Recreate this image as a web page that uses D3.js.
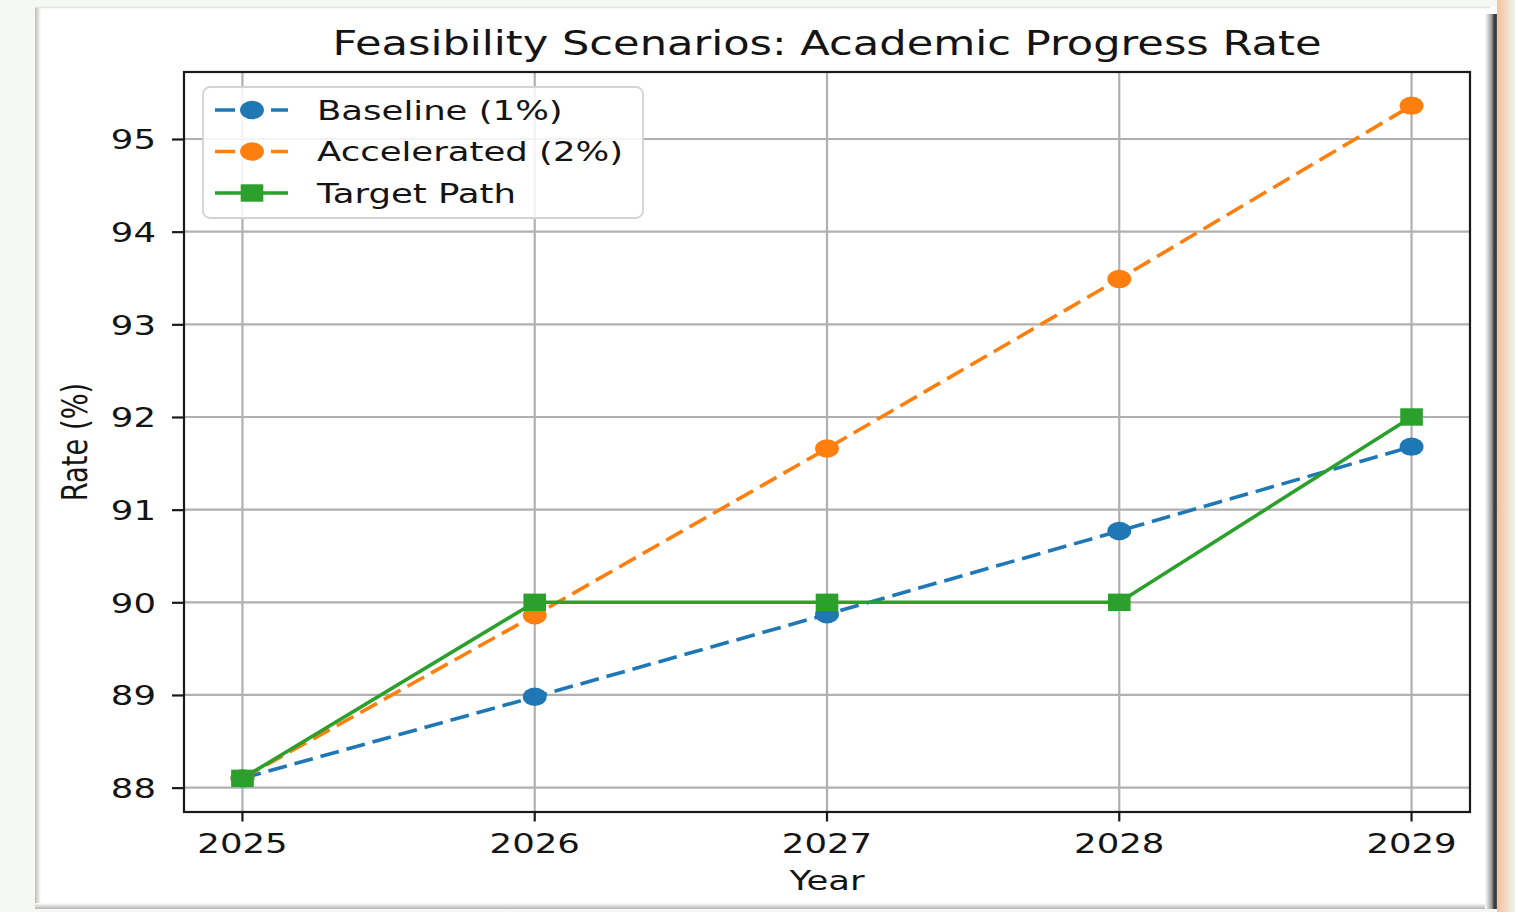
<!DOCTYPE html>
<html lang="en">
    <head>
        <meta charset="utf-8">
        <script type="text/javascript" src="https://cdn.jsdelivr.net/npm/d3@7/dist/d3.min.js"></script>
        <style>
          body { margin: 0; background: #f5f8f4; }
          text { font-family: "DejaVu Sans", sans-serif; fill: #141414; }
        </style>
    </head>
    <body>
        <div id="chart"></div>
        <script type="text/javascript">
        // data
        var years = [2025, 2026, 2027, 2028, 2029];
        var baseline = [88.1, 88.98, 89.87, 90.77, 91.68];
        var accelerated = [88.1, 89.86, 91.66, 93.49, 95.36];
        var target = [88.1, 90, 90, 90, 92];
        var yTicks = [88, 89, 90, 91, 92, 93, 94, 95];
        var seriesNames = ["Baseline (1%)", "Accelerated (2%)", "Target Path"];

        // the picture is stretched sideways, text and markers follow that
        var sx = 1.3;
        var tickFont = 27.3;
        var titleFont = 33.2;

        var margin = { top: 72, right: 45, bottom: 100, left: 184 };
        var width = 1286;
        var height = 740;

        var series = [
          { name: seriesNames[0], values: baseline, color: '#1f77b4', dash: '19,8', marker: 'circle' },
          { name: seriesNames[1], values: accelerated, color: '#ff7f0e', dash: '19,8', marker: 'circle' },
          { name: seriesNames[2], values: target, color: '#2ca02c', dash: null, marker: 'square' }
        ];

        var svg = d3.select('#chart').append('svg')
          .attr('width', 1515)
          .attr('height', 912)
          .style('display', 'block');

        // photo frame around the figure
        var defs = svg.append('defs');
        function grad(id, stops, vertical) {
          var g = defs.append('linearGradient').attr('id', id)
            .attr('x1', 0).attr('y1', 0)
            .attr('x2', vertical ? 0 : 1).attr('y2', vertical ? 1 : 0);
          stops.forEach(function(s) {
            g.append('stop').attr('offset', s[0]).attr('stop-color', s[1]);
          });
        }
        grad('leftEdge', [[0, '#bcbcbc'], [1, '#ffffff']]);
        grad('rightEdge', [[0, '#ffffff'], [0.55, '#9a9a9a'], [0.8, '#333333'], [1, '#555555']]);
        grad('bottomEdge', [[0, '#ffffff'], [1, '#b5b5b5']], true);
        grad('glow', [[0, '#f3c29b'], [1, '#eef4ec']]);

        svg.append('rect').attr('x', 0).attr('y', 0).attr('width', 1515).attr('height', 912).style('fill', '#f6f8f4');
        svg.append('rect').attr('x', 1497).attr('y', 0).attr('width', 18).attr('height', 912).style('fill', 'url(#glow)');
        svg.append('rect').attr('x', 35).attr('y', 7).attr('width', 1462).attr('height', 902).style('fill', '#ffffff');
        svg.append('rect').attr('x', 35).attr('y', 7).attr('width', 6).attr('height', 902).style('fill', 'url(#leftEdge)');
        svg.append('rect').attr('x', 35).attr('y', 903).attr('width', 1462).attr('height', 6).style('fill', 'url(#bottomEdge)');
        svg.append('rect').attr('x', 1485).attr('y', 14).attr('width', 12).attr('height', 895).style('fill', 'url(#rightEdge)');
        svg.append('line').attr('x1', 35).attr('x2', 1490).attr('y1', 7.5).attr('y2', 7.5)
          .style('stroke', '#e4e4e4').style('stroke-width', 1.5);

        var xScale = d3.scaleLinear()
          .domain([2024.8, 2029.2])
          .range([margin.left, margin.left + width]);

        var yScale = d3.scaleLinear()
          .domain([87.737, 95.723])
          .range([margin.top + height, margin.top]);

        // grid
        var grid = svg.append('g');
        grid.selectAll('.vgrid')
          .data(years).enter().append('line')
          .attr('x1', function(d){ return xScale(d); })
          .attr('x2', function(d){ return xScale(d); })
          .attr('y1', margin.top)
          .attr('y2', margin.top + height);
        grid.selectAll('.hgrid')
          .data(yTicks).enter().append('line')
          .attr('x1', margin.left)
          .attr('x2', margin.left + width)
          .attr('y1', function(d){ return yScale(d); })
          .attr('y2', function(d){ return yScale(d); });
        grid.selectAll('line')
          .style('stroke', '#b0b0b0')
          .style('stroke-width', 2.2);

        // lines and markers
        var line = d3.line()
          .x(function(d, i){ return xScale(years[i]); })
          .y(function(d){ return yScale(d); });

        function drawMarker(g, m, cx, cy, color) {
          if (m === 'circle') {
            g.append('ellipse')
              .attr('cx', cx).attr('cy', cy)
              .attr('rx', 9.2 * sx).attr('ry', 9.2)
              .style('fill', color);
          } else {
            g.append('rect')
              .attr('x', cx - 8.7 * sx).attr('y', cy - 8.7)
              .attr('width', 17.4 * sx).attr('height', 17.4)
              .style('fill', color);
          }
        }

        series.forEach(function(s) {
          var g = svg.append('g');
          g.append('path')
            .attr('d', line(s.values))
            .style('fill', 'none')
            .style('stroke', s.color)
            .style('stroke-width', 3.6)
            .style('stroke-dasharray', s.dash);
          s.values.forEach(function(v, i) {
            drawMarker(g, s.marker, xScale(years[i]), yScale(v), s.color);
          });
        });

        // axes
        var vAxis = d3.axisLeft()
          .scale(yScale)
          .tickValues(yTicks)
          .tickSizeInner(12)
          .tickSizeOuter(0)
          .tickFormat(d3.format('d'));

        var vGuide = svg.append('g')
          .attr('transform', 'translate(' + margin.left + ',0)')
          .call(vAxis);
        vGuide.select('.domain').remove();
        vGuide.selectAll('line').style('stroke', '#1a1a1a').style('stroke-width', 2.2);
        vGuide.selectAll('text')
          .attr('x', -28 / sx)
          .attr('dy', '0.36em')
          .attr('transform', 'scale(' + sx + ',1)')
          .style('font-size', tickFont + 'px')
          .style('font-family', '"DejaVu Sans", sans-serif')
          .style('fill', '#141414');

        var hAxis = d3.axisBottom()
          .scale(xScale)
          .tickValues(years)
          .tickSizeInner(9.5)
          .tickSizeOuter(0)
          .tickFormat(d3.format('d'));

        var hGuide = svg.append('g')
          .attr('transform', 'translate(0,' + (margin.top + height) + ')')
          .call(hAxis);
        hGuide.select('.domain').remove();
        hGuide.selectAll('line').style('stroke', '#1a1a1a').style('stroke-width', 2.2);
        hGuide.selectAll('.tick').each(function(d) {
          d3.select(this).attr('transform', 'translate(' + xScale(d) + ',0)');
        });
        hGuide.selectAll('text')
          .attr('y', 41)
          .attr('dy', 0)
          .attr('transform', 'scale(' + sx + ',1)')
          .style('font-size', tickFont + 'px')
          .style('font-family', '"DejaVu Sans", sans-serif')
          .style('fill', '#141414');

        // spines
        svg.append('rect')
          .attr('x', margin.left)
          .attr('y', margin.top)
          .attr('width', width)
          .attr('height', height)
          .style('fill', 'none')
          .style('stroke', '#1a1a1a')
          .style('stroke-width', 2.2);

        // legend
        var legend = svg.append('g');
        legend.append('rect')
          .attr('x', 203).attr('y', 87)
          .attr('width', 440).attr('height', 131)
          .attr('rx', 7)
          .style('fill', '#ffffff')
          .style('fill-opacity', 0.85)
          .style('stroke', '#d3d3d3')
          .style('stroke-width', 1.8);

        series.forEach(function(s, i) {
          var cy = 110 + i * 41.5;
          legend.append('line')
            .attr('x1', 215).attr('x2', 288)
            .attr('y1', cy).attr('y2', cy)
            .style('stroke', s.color)
            .style('stroke-width', 3.6)
            .style('stroke-dasharray', s.dash ? '20,8' : null);
          drawMarker(legend, s.marker, 252, cy, s.color);
          legend.append('text')
            .attr('transform', 'translate(317,' + (cy + 9.5) + ') scale(' + sx + ',1)')
            .style('font-size', tickFont + 'px')
            .text(s.name);
        });

        // titles
        svg.append('text')
          .attr('transform', 'translate(' + (margin.left + width / 2) + ',55) scale(' + sx + ',1)')
          .attr('text-anchor', 'middle')
          .style('font-size', titleFont + 'px')
          .text('Feasibility Scenarios: Academic Progress Rate');

        svg.append('text')
          .attr('transform', 'translate(' + (margin.left + width / 2) + ',890) scale(' + sx + ',1)')
          .attr('text-anchor', 'middle')
          .style('font-size', tickFont + 'px')
          .text('Year');

        svg.append('text')
          .attr('transform', 'translate(87,' + (margin.top + height / 2) + ') rotate(-90) scale(1,' + sx + ')')
          .attr('text-anchor', 'middle')
          .style('font-size', tickFont + 'px')
          .text('Rate (%)');
        </script>
    </body>
</html>
